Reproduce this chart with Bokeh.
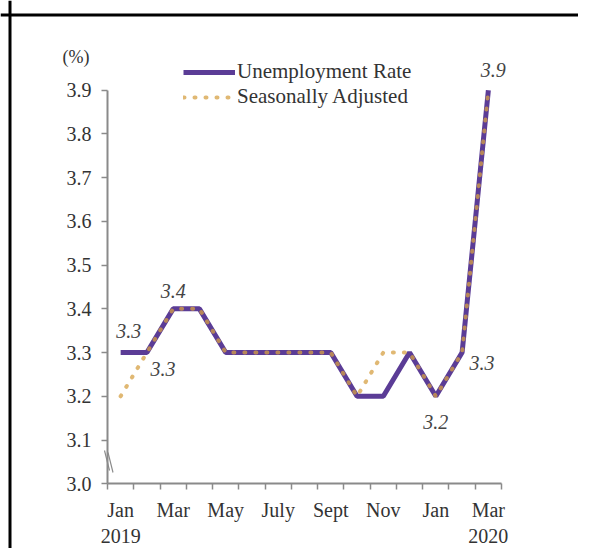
from bokeh.plotting import figure
from bokeh.models import FixedTicker, Range1d, Legend, LegendItem, ColumnDataSource, PrintfTickFormatter, Span
from bokeh.core.properties import value
from bokeh.embed import file_html
from bokeh.resources import INLINE

# ---- data ----
months = ["Jan", "Feb", "Mar", "Apr", "May", "Jun", "Jul", "Aug", "Sep", "Oct", "Nov", "Dec", "Jan", "Feb", "Mar"]
unemployment_rate = [3.3, 3.3, 3.4, 3.4, 3.3, 3.3, 3.3, 3.3, 3.3, 3.2, 3.2, 3.3, 3.2, 3.3, 3.9]
seasonally_adjusted = [3.2, 3.3, 3.4, 3.4, 3.3, 3.3, 3.3, 3.3, 3.3, 3.2, 3.3, 3.3, 3.2, 3.3, 3.9]
x_tick_labels = {0: "Jan\n2019", 2: "Mar", 4: "May", 6: "July", 8: "Sept", 10: "Nov", 12: "Jan", 14: "Mar\n2020"}
y_ticks = [3.0, 3.1, 3.2, 3.3, 3.4, 3.5, 3.6, 3.7, 3.8, 3.9]
unit_label = "(%)"
label_idx = [0, 1, 2, 12, 13, 14]
# label placement (screen px offsets, style only)
label_dx = [8, 16, 0, 0, 20, 5]
label_dy = [-22, 16, -18, 26, 10, -20]

FONT = "Liberation Serif"
AXIS_COLOR = "#8a8a8a"
TEXT_COLOR = "#333333"

# ---- layout (pixels within the canvas) ----
W, H = 578, 548
n = len(months)
FR_L, FR_R = 107.0, 501.0     # x = -0.5 and x = n-0.5
FR_B = 483.3                  # y = 3.0
PX_PER_Y = 437.4
px_per_x = (FR_R - FR_L) / n

def px_to_x(px):
    return -0.5 + (px - FR_L) / px_per_x

def py_to_y(py):
    return y_ticks[0] + (FR_B - py) / PX_PER_Y

xs = list(range(n))

p = figure(width=W, height=H, min_border=0,
           x_range=Range1d(px_to_x(0), px_to_x(W)), y_range=Range1d(py_to_y(H), py_to_y(0)),
           output_backend="svg", toolbar_location=None)
p.outline_line_color = None
p.xgrid.visible = False
p.ygrid.visible = False
p.background_fill_color = "white"
p.border_fill_color = "white"

# outer box border (top and left edges visible)
p.add_layout(Span(location=py_to_y(14.5), dimension="width", line_color="black", line_width=3))
p.add_layout(Span(location=px_to_x(9.5), dimension="height", line_color="black", line_width=3))

r1 = p.line(xs, unemployment_rate, line_color="#5b3c96", line_width=5)
r2 = p.line(xs, seasonally_adjusted, line_color="#d6a044", line_width=4,
            line_dash="1 10", line_cap="round", line_alpha=0.75)

# axis break marks
p.segment(x0=[px_to_x(104), px_to_x(107.5)], y0=[py_to_y(450), py_to_y(452)],
          x1=[px_to_x(109), px_to_x(112.5)], y1=[py_to_y(470), py_to_y(472)],
          line_color=AXIS_COLOR, line_width=1.2)

# x axis
xa = p.xaxis[0]
xa.fixed_location = y_ticks[0]
xa.bounds = (-0.5, n - 0.5)
xa.ticker = FixedTicker(ticks=sorted(x_tick_labels.keys()), minor_ticks=[i - 0.5 for i in range(n + 1)])
xa.major_label_overrides = x_tick_labels
xa.major_tick_out = 0
xa.major_tick_in = 0
xa.major_tick_line_color = None
xa.minor_tick_out = 6
xa.minor_tick_in = 0
xa.minor_tick_line_color = AXIS_COLOR
xa.minor_tick_line_width = 1.5
xa.axis_line_color = AXIS_COLOR
xa.axis_line_width = 2
xa.major_label_text_font = FONT
xa.major_label_text_font_size = "20px"
xa.major_label_text_color = TEXT_COLOR
xa.major_label_standoff = 9

# y axis
ya = p.yaxis[0]
ya.fixed_location = -0.5
ya.ticker = FixedTicker(ticks=y_ticks)
ya.formatter = PrintfTickFormatter(format="%.1f")
ya.bounds = (y_ticks[0], y_ticks[-1])
ya.major_tick_out = 6
ya.major_tick_in = 0
ya.minor_tick_line_color = None
ya.major_tick_line_color = AXIS_COLOR
ya.major_tick_line_width = 1.5
ya.axis_line_color = AXIS_COLOR
ya.axis_line_width = 2
ya.major_label_text_font = FONT
ya.major_label_text_font_size = "20px"
ya.major_label_text_color = TEXT_COLOR
ya.major_label_standoff = 10

# data labels
src = ColumnDataSource(dict(
    x=[xs[i] for i in label_idx],
    y=[unemployment_rate[i] for i in label_idx],
    t=["%.1f" % unemployment_rate[i] for i in label_idx],
    dx=label_dx, dy=label_dy))
p.text(x="x", y="y", text="t", x_offset="dx", y_offset="dy", source=src,
       text_font=value(FONT), text_font_style="italic", text_font_size="20px",
       text_color="#444444", text_align="center", text_baseline="middle")

# unit label above the y axis
p.text(x=[-0.5], y=[y_ticks[-1]], text=[unit_label], x_offset=-45, y_offset=-33,
       text_font=value(FONT), text_font_size="18px", text_color=TEXT_COLOR,
       text_align="left", text_baseline="middle")

legend = Legend(items=[LegendItem(label="Unemployment Rate", renderers=[r1]),
                       LegendItem(label="Seasonally Adjusted", renderers=[r2])],
                location=(183, H - 109), glyph_width=52, glyph_height=22, label_height=22,
                label_standoff=2, padding=0, spacing=0, margin=0,
                border_line_color=None, background_fill_alpha=0,
                label_text_font=FONT, label_text_font_size="21px", label_text_color=TEXT_COLOR)
p.add_layout(legend)

open("out.html", "w").write(file_html(p, INLINE))
